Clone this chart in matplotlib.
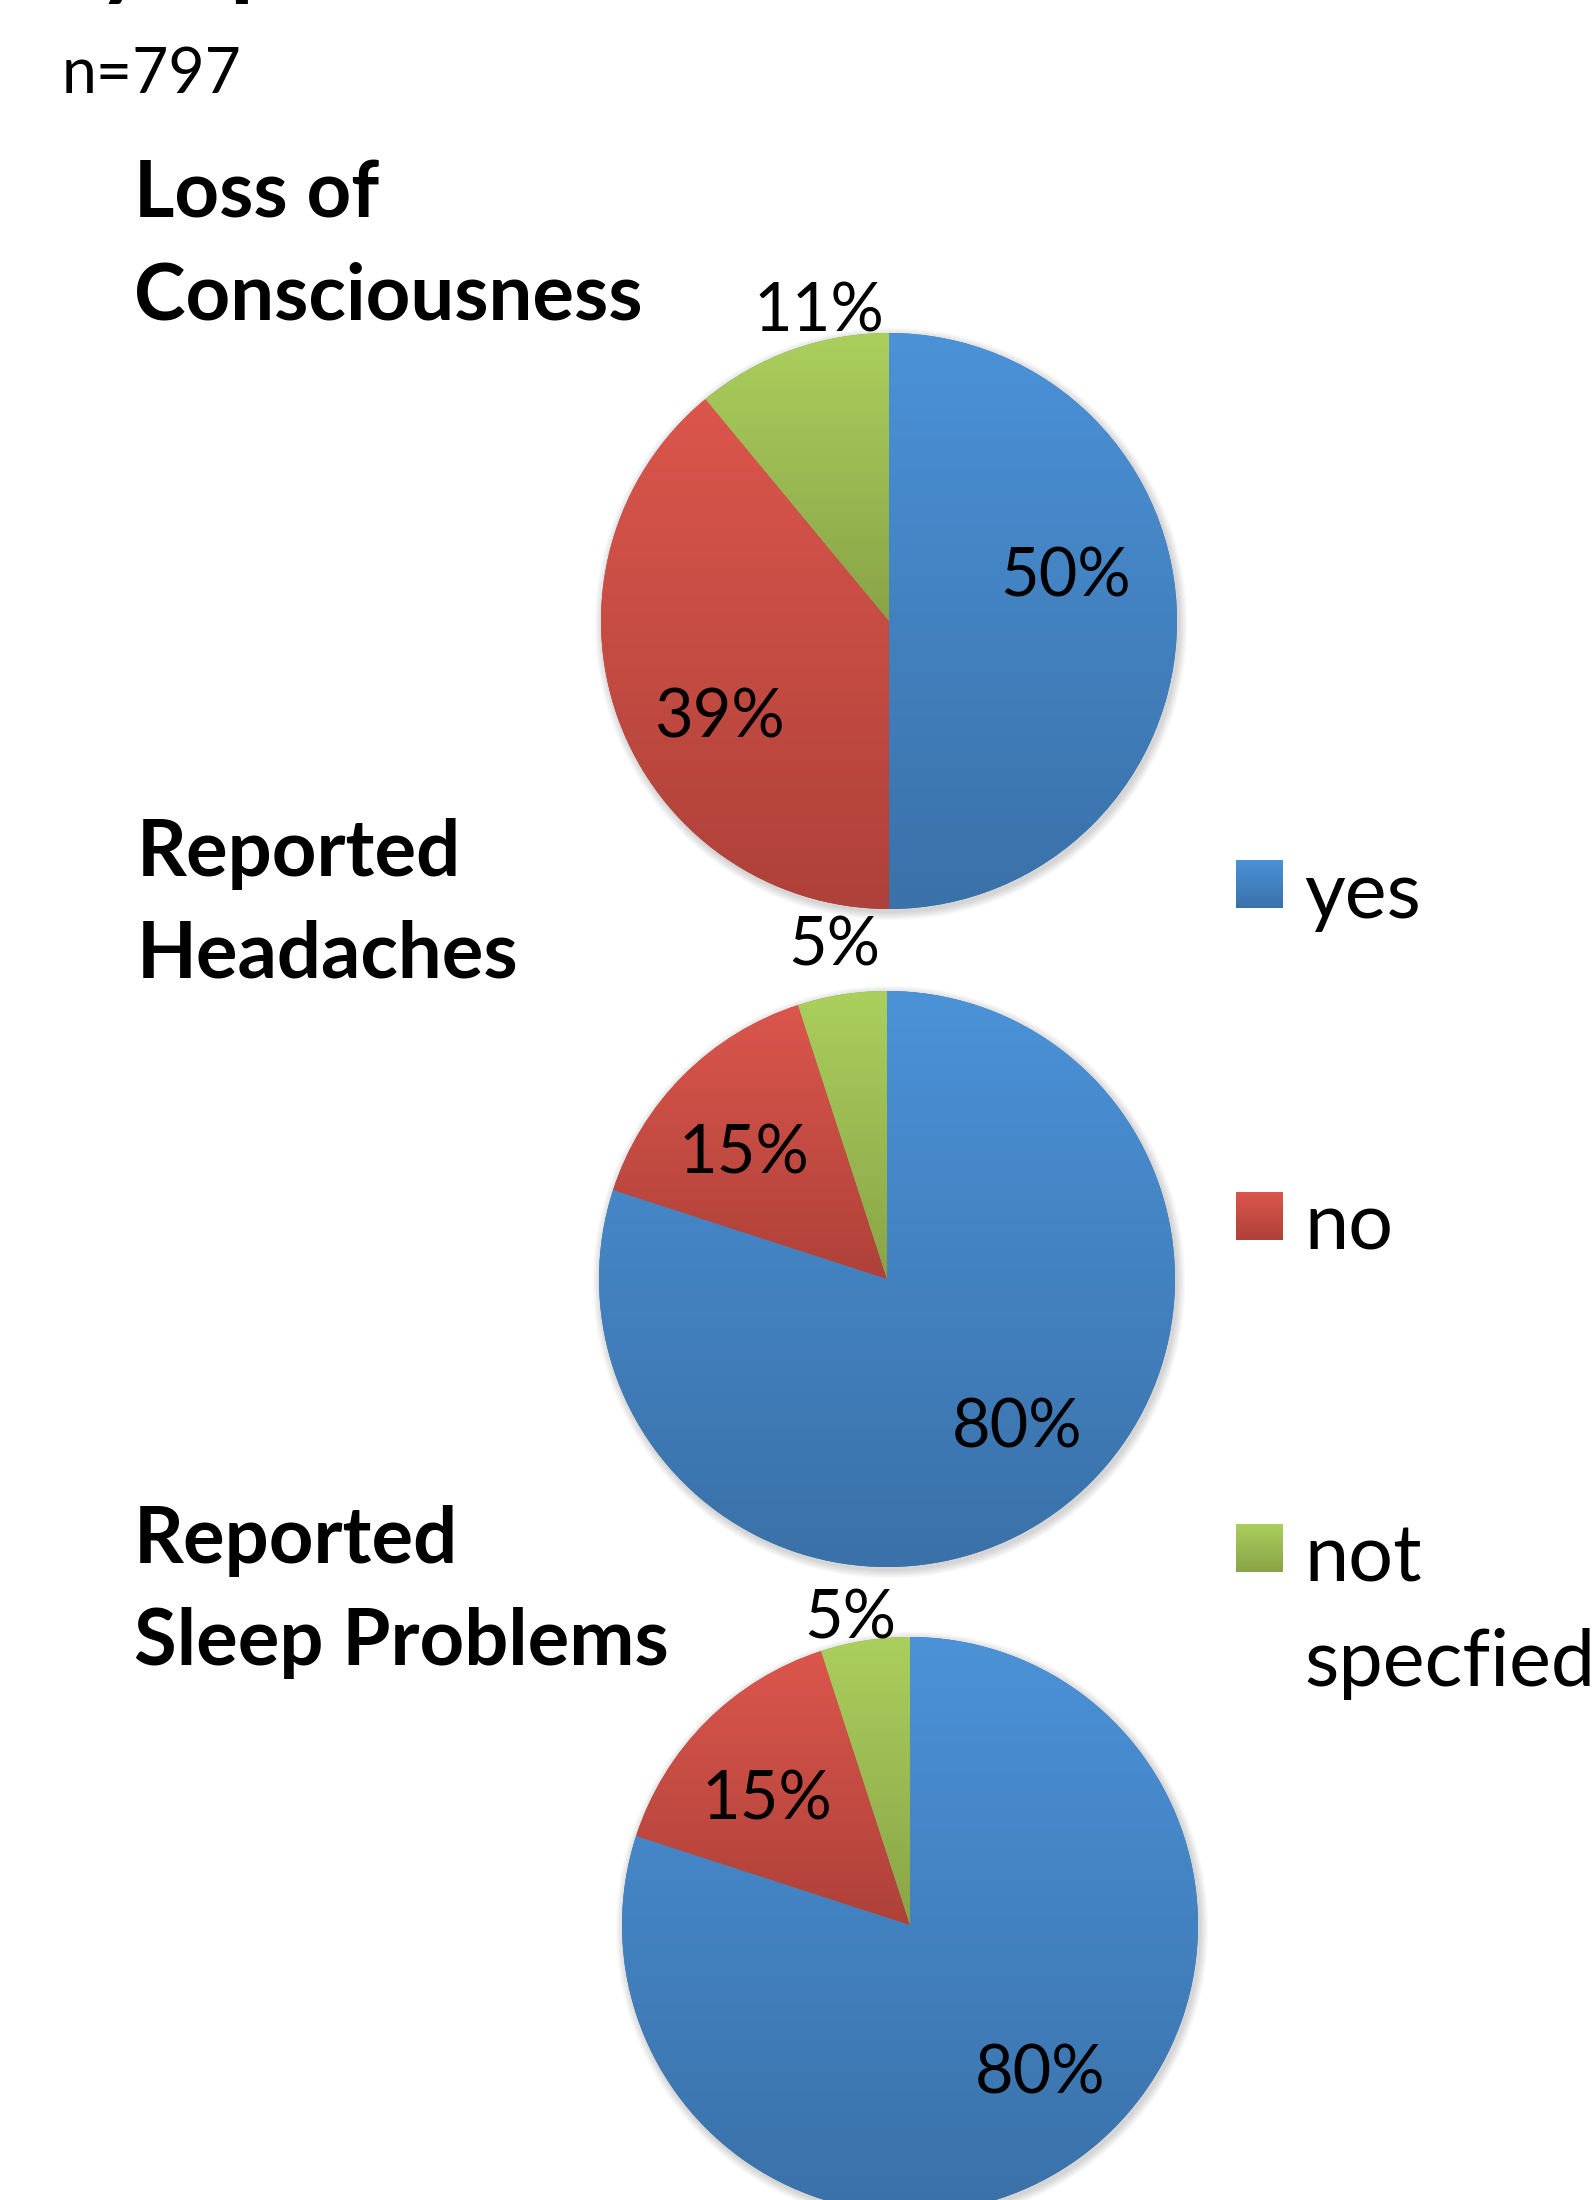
#!/usr/bin/env python3
"""Three stacked pie charts of reported symptoms with a shared legend."""

import numpy as np
import matplotlib
matplotlib.use("Agg")
import matplotlib.pyplot as plt
from matplotlib.patches import Circle, Rectangle
from matplotlib.colors import LinearSegmentedColormap

plt.rcParams["font.family"] = ["Lato", "DejaVu Sans"]

# ----------------------
# Data
# ----------------------
title = "Symptoms"
sample_size = 797
categories = ["yes", "no", "not\nspecfied"]
panel_titles = ["Loss of\nConsciousness", "Reported\nHeadaches", "Reported\nSleep Problems"]
loss_of_consciousness = [50, 39, 11]
headaches = [80, 15, 5]
sleep_problems = [80, 15, 5]
panel_values = [loss_of_consciousness, headaches, sleep_problems]

# (top, bottom) colours of the vertical gradient on each slice
shades = [("#4b92d8", "#3a71a8"), ("#db564c", "#ae4139"), ("#abcf5d", "#89a447")]

# ----------------------
# Layout (pixel units, y measured from the top)
# ----------------------
W, H = 1596, 2200
R = 288
pie_centers = [(889, 621), (887, 1279), (910, 1925)]
title_pos = [(134, 217), (137, 876), (134, 1563)]
title_gap = 102
# per label: (radius fraction, angle nudge in degrees)
label_place = [
    [(0.63, 14), (0.68, 10), (1.10, -7)],
    [(0.69, 5), (0.66, 4), (1.17, 0)],
    [(0.69, 5), (0.66, 4), (1.08, 2)],
]


def yy(y):
    return H - y


def shade_patch(ax, patch, top, bottom, z):
    ext = patch.get_path().get_extents(patch.get_patch_transform())
    cmap = LinearSegmentedColormap.from_list("g", [bottom, top])
    grad = np.linspace(0, 1, 256).reshape(-1, 1)
    im = ax.imshow(grad, cmap=cmap, origin="lower", aspect="auto",
                   extent=(ext.x0, ext.x1, ext.y0, ext.y1),
                   interpolation="bilinear", zorder=z)
    im.set_clip_path(patch)


fig = plt.figure(figsize=(W / 100, H / 100), dpi=100)
ax = fig.add_axes([0, 0, 1, 1])

for i, vals in enumerate(panel_values):
    cx, cy = pie_centers[i]
    # soft drop shadow round the pie
    for k in range(7):
        ax.add_patch(Circle((cx + 2, yy(cy) - 3), R + 1 + k * 1.2, facecolor="black",
                            edgecolor="none", alpha=0.022, zorder=0))
    wedges, _ = ax.pie(vals, startangle=90, counterclock=False,
                       center=(cx, yy(cy)), radius=R,
                       colors=[s[1] for s in shades],
                       wedgeprops=dict(linewidth=0, zorder=1))
    for w, (top, bottom) in zip(wedges, shades):
        shade_patch(ax, w, top, bottom, 2)

    for w, v, (dist, nudge) in zip(wedges, vals, label_place[i]):
        ang = np.deg2rad((w.theta1 + w.theta2) / 2 + nudge)
        ax.text(cx + dist * R * np.cos(ang), yy(cy) + dist * R * np.sin(ang),
                f"{v}%", fontsize=48, ha="center", va="center", zorder=5)

    tx, ty = title_pos[i]
    for j, line in enumerate(panel_titles[i].split("\n")):
        ax.text(tx, yy(ty + j * title_gap), line, fontsize=56, fontweight="bold",
                ha="left", va="baseline")

# title runs off the top edge, sample size below it
ax.text(45, yy(-12), title, fontsize=70, fontweight="bold", ha="left",
        va="baseline", clip_on=False)
ax.text(62, yy(93), f"n={sample_size}", fontsize=45, ha="left", va="baseline")

# legend
legend_y = [884, 1216, 1548]
for cat, (top, bottom), ly in zip(categories, shades, legend_y):
    sq = Rectangle((1236, yy(ly) - 24), 47, 48, facecolor=bottom, edgecolor="none", zorder=1)
    ax.add_patch(sq)
    shade_patch(ax, sq, top, bottom, 2)
    for j, line in enumerate(cat.split("\n")):
        ax.text(1304, yy(ly + 34 + j * 104), line, fontsize=57, ha="left", va="baseline")

ax.set_xlim(0, W)
ax.set_ylim(0, H)
ax.set_aspect("auto")
ax.axis("off")

fig.savefig("out.png", dpi=100, facecolor="white")
